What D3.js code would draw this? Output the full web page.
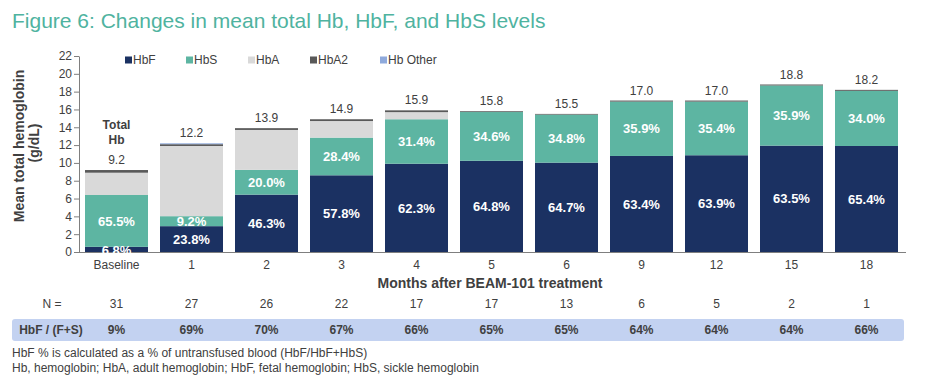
<!DOCTYPE html>
<html>
<head>
<meta charset="utf-8">
<script src="https://cdn.jsdelivr.net/npm/d3@7"></script>
<style>
body { margin: 0; background: #fff; }
text { font-family: "Liberation Sans", Arial, sans-serif; }
</style>
</head>
<body>
<div id="chart"></div>
<script>
const months = ['Baseline','1','2','3','4','5','6','9','12','15','18'];
// g/dL per component
const hbf   = [0.58, 2.90, 6.44, 8.61, 9.91, 10.24, 10.03, 10.78, 10.86, 11.94, 11.90];
const hbs   = [5.82, 1.12, 2.78, 4.23, 4.99, 5.47, 5.39, 6.10, 6.02, 6.75, 6.19];
const hba   = [2.50, 7.88, 4.48, 1.86, 0.80, 0.00, 0.00, 0.00, 0.00, 0.00, 0.00];
const hba2  = [0.30, 0.20, 0.20, 0.20, 0.20, 0.09, 0.08, 0.12, 0.12, 0.11, 0.11];
const other = [0.00, 0.10, 0.00, 0.00, 0.00, 0.00, 0.00, 0.00, 0.00, 0.00, 0.00];
const totals = ['9.2','12.2','13.9','14.9','15.9','15.8','15.5','17.0','17.0','18.8','18.2'];
const hbfPct = ['6.8%','23.8%','46.3%','57.8%','62.3%','64.8%','64.7%','63.4%','63.9%','63.5%','65.4%'];
const hbsPct = ['65.5%','9.2%','20.0%','28.4%','31.4%','34.6%','34.8%','35.9%','35.4%','35.9%','34.0%'];
const nVals = [31, 27, 26, 22, 17, 17, 13, 6, 5, 2, 1];
const ratio = ['9%','69%','70%','67%','66%','65%','65%','64%','64%','64%','66%'];
const keys = ['HbF','HbS','HbA','HbA2','Hb Other'];
const colors = ['#1b3162','#5db5a2','#d9d9d9','#595959','#8faadc'];
const yTicks = [0,2,4,6,8,10,12,14,16,18,20,22];

const width = 926, height = 377;

const svg = d3.select('#chart')
    .append('svg')
    .attr('width', width)
    .attr('height', height);

let data = months.map((m,i) => ({month: m, 'HbF': hbf[i], 'HbS': hbs[i], 'HbA': hba[i], 'HbA2': hba2[i], 'Hb Other': other[i]}));
let stacked = d3.stack().keys(keys)(data);

let x = d3.scaleBand().domain(months).range([79, 904]).paddingInner(0.16).paddingOuter(0.08);
let y = d3.scaleLinear().domain([0,22]).range([252,56]);
let color = d3.scaleOrdinal().domain(keys).range(colors);

// title
svg.append('text')
    .attr('x', 12).attr('y', 28)
    .style('font-size', '21px')
    .style('fill', '#4fb3a0')
    .text('Figure 6: Changes in mean total Hb, HbF, and HbS levels');

// bars
svg.selectAll('g.layer')
    .data(stacked)
    .enter()
    .append('g')
    .attr('class', 'layer')
    .attr('fill', d => color(d.key))
    .selectAll('rect')
    .data(d => d)
    .enter()
    .append('rect')
    .attr('x', d => x(d.data.month))
    .attr('width', x.bandwidth())
    .attr('y', d => y(d[1]))
    .attr('height', d => y(d[0]) - y(d[1]));

// axes
let yAxis = d3.axisLeft(y).tickValues(yTicks).tickSize(5).tickSizeOuter(0);
let yg = svg.append('g').attr('transform', 'translate(79,0)').call(yAxis);
yg.select('.domain').attr('stroke', '#7f7f7f');
yg.selectAll('line').attr('stroke', '#7f7f7f');
yg.selectAll('text').style('font-size', '12px').style('fill', '#404040').attr('x', -7);

let xAxis = d3.axisBottom(x).tickSize(0).tickSizeOuter(0);
let xg = svg.append('g').attr('transform', 'translate(0,252)').call(xAxis);
xg.select('.domain').attr('stroke', '#7f7f7f').attr('d', 'M79,0.5H906');
xg.selectAll('text').style('font-size', '12px').style('fill', '#404040').attr('dy', '1.05em').attr('y', 4);

// segment labels
let stackF = stacked[0], stackS = stacked[1];
svg.append('g').selectAll('text')
    .data(stackF)
    .enter()
    .append('text')
    .attr('x', d => x(d.data.month) + x.bandwidth()/2)
    .attr('y', (d,i) => i == 0 ? y(d[1]) + 3 : (y(d[0]) + y(d[1]))/2)
    .attr('dy', '0.36em')
    .attr('text-anchor', 'middle')
    .style('font-size', '13px')
    .style('font-weight', 'bold')
    .style('fill', '#fff')
    .text((d,i) => hbfPct[i]);

svg.append('g').selectAll('text')
    .data(stackS)
    .enter()
    .append('text')
    .attr('x', d => x(d.data.month) + x.bandwidth()/2)
    .attr('y', d => (y(d[0]) + y(d[1]))/2)
    .attr('dy', '0.36em')
    .attr('text-anchor', 'middle')
    .style('font-size', '13px')
    .style('font-weight', 'bold')
    .style('fill', '#fff')
    .text((d,i) => hbsPct[i]);

// totals
let topLayer = stacked[stacked.length-1];
svg.append('g').selectAll('text')
    .data(topLayer)
    .enter()
    .append('text')
    .attr('x', d => x(d.data.month) + x.bandwidth()/2)
    .attr('y', d => y(d[1]) - 6)
    .attr('text-anchor', 'middle')
    .style('font-size', '12px')
    .style('fill', '#404040')
    .text((d,i) => totals[i]);

let cx0 = x(months[0]) + x.bandwidth()/2;
svg.append('text').attr('x', cx0).attr('y', 129).attr('text-anchor', 'middle')
    .style('font-size', '12px').style('font-weight', 'bold').style('fill', '#404040').text('Total');
svg.append('text').attr('x', cx0).attr('y', 144).attr('text-anchor', 'middle')
    .style('font-size', '12px').style('font-weight', 'bold').style('fill', '#404040').text('Hb');

// legend
const legendX = [125, 186, 248, 310, 380];
let legend = svg.append('g').selectAll('g')
    .data(keys)
    .enter()
    .append('g')
    .attr('transform', (d,i) => 'translate(' + legendX[i] + ',60)');
legend.append('rect').attr('x', 0).attr('y', -3.5).attr('width', 7).attr('height', 7).attr('fill', d => color(d));
legend.append('text').attr('x', 8).attr('dy', '0.36em')
    .style('font-size', '12px').style('fill', '#404040').text(d => d);

// axis titles
svg.append('text')
    .attr('transform', 'translate(24,146) rotate(-90)')
    .attr('text-anchor', 'middle')
    .style('font-size', '14px').style('font-weight', 'bold').style('fill', '#404040')
    .text('Mean total hemoglobin');
svg.append('text')
    .attr('transform', 'translate(39,143) rotate(-90)')
    .attr('text-anchor', 'middle')
    .style('font-size', '14px').style('font-weight', 'bold').style('fill', '#404040')
    .text('(g/dL)');
svg.append('text')
    .attr('x', 490).attr('y', 288)
    .attr('text-anchor', 'middle')
    .style('font-size', '14px').style('font-weight', 'bold').style('fill', '#404040')
    .text('Months after BEAM-101 treatment');

// N row
svg.append('text').attr('x', 52).attr('y', 308).attr('text-anchor', 'middle')
    .style('font-size', '12px').style('fill', '#404040').text('N =');
svg.append('g').selectAll('text')
    .data(nVals)
    .enter()
    .append('text')
    .attr('x', (d,i) => x(months[i]) + x.bandwidth()/2)
    .attr('y', 308)
    .attr('text-anchor', 'middle')
    .style('font-size', '12px').style('fill', '#404040')
    .text(d => d);

// HbF / (F+S) row
svg.append('rect').attr('x', 12).attr('y', 319).attr('width', 892).attr('height', 22)
    .attr('rx', 3).attr('fill', '#c3d2f1');
svg.append('text').attr('x', 51).attr('y', 334).attr('text-anchor', 'middle')
    .style('font-size', '12px').style('font-weight', 'bold').style('fill', '#404040').text('HbF / (F+S)');
svg.append('g').selectAll('text')
    .data(ratio)
    .enter()
    .append('text')
    .attr('x', (d,i) => x(months[i]) + x.bandwidth()/2)
    .attr('y', 334)
    .attr('text-anchor', 'middle')
    .style('font-size', '12px').style('font-weight', 'bold').style('fill', '#404040')
    .text(d => d);

// footnotes
svg.append('text').attr('x', 12).attr('y', 357)
    .style('font-size', '12px').style('fill', '#404040')
    .text('HbF % is calculated as a % of untransfused blood (HbF/HbF+HbS)');
svg.append('text').attr('x', 12).attr('y', 372)
    .style('font-size', '12px').style('fill', '#404040')
    .text('Hb, hemoglobin; HbA, adult hemoglobin; HbF, fetal hemoglobin; HbS, sickle hemoglobin');
</script>
</body>
</html>
